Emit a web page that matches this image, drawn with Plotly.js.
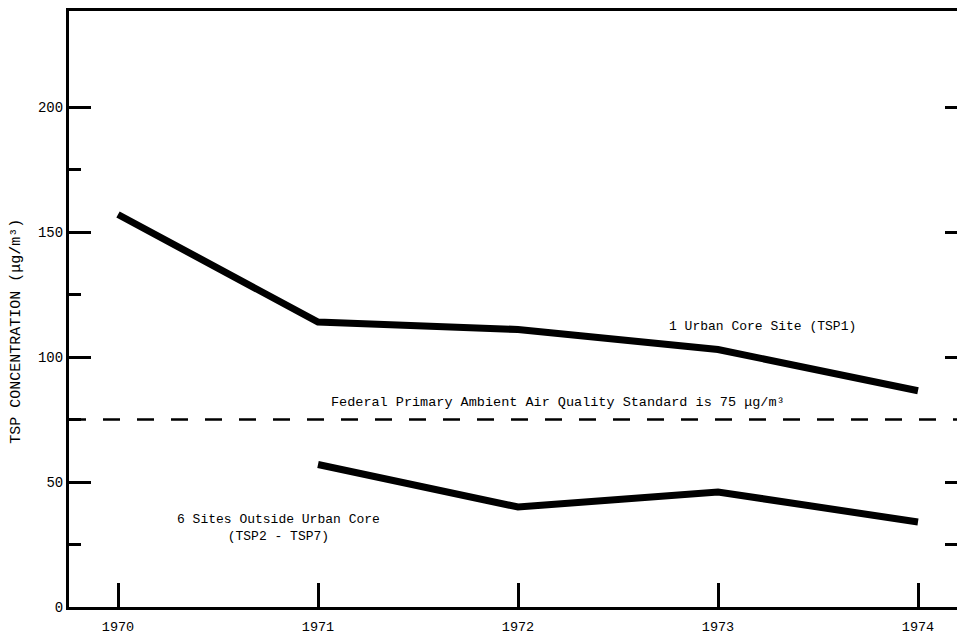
<!DOCTYPE html>
<html>
<head>
<meta charset="utf-8">
<script src="https://cdn.plot.ly/plotly-3.0.1.min.js"></script>
<style>html,body{margin:0;padding:0;background:#fff;}#chart{width:957px;height:638px;}</style>
</head>
<body>
<div id="chart"></div>
<script>
const years = [1970, 1971, 1972, 1973, 1974];
const urbanCore = [157, 114, 111, 103, 86.5];
const outsideYears = [1971, 1972, 1973, 1974];
const outsideCore = [57, 40, 46, 34];
const standardValue = 75;
const yTickVals = [0, 50, 100, 150, 200];
const yMinorTickVals = [25, 75, 125, 175];
const rightTickVals = [25, 50, 100, 150, 200];

const FONT = '"Liberation Mono", "DejaVu Sans Mono", monospace';

const traces = [
  {x: years, y: urbanCore, mode: 'lines', line: {color: '#000', width: 7}, hoverinfo: 'skip'},
  {x: outsideYears, y: outsideCore, mode: 'lines', line: {color: '#000', width: 7}, hoverinfo: 'skip'},
  {x: [1972], y: [100], yaxis: 'y2', mode: 'markers', marker: {opacity: 0}, hoverinfo: 'skip'}
];

const layout = {
  width: 957, height: 638,
  margin: {l: 69, r: 0, t: 11, b: 31},
  paper_bgcolor: '#fff', plot_bgcolor: '#fff',
  showlegend: false,
  font: {family: FONT, size: 13.5, color: '#000'},
  xaxis: {
    range: [1969.755, 1974.195],
    tickvals: years, ticktext: years.map(String),
    ticks: 'inside', ticklen: 24, tickwidth: 3, tickcolor: '#000',
    ticklabelstandoff: 5,
    showline: true, linewidth: 3, linecolor: '#000', mirror: true,
    showgrid: false, zeroline: false,
    tickfont: {family: FONT, size: 13.5, color: '#000'}
  },
  yaxis: {
    range: [0, 238.4],
    tickvals: yTickVals,
    ticks: 'inside', ticklen: 22, tickwidth: 3, tickcolor: '#000',
    minor: {tickvals: yMinorTickVals, ticks: 'inside', ticklen: 12, tickwidth: 3, tickcolor: '#000', showgrid: false},
    showline: true, linewidth: 3, linecolor: '#000',
    showgrid: false, zeroline: false,
    tickfont: {family: FONT, size: 14, color: '#000'}
  },
  yaxis2: {
    overlaying: 'y', side: 'right', range: [0, 238.4],
    tickvals: rightTickVals, ticks: 'inside', ticklen: 12, tickwidth: 3, tickcolor: '#000',
    showticklabels: false, showline: false, showgrid: false, zeroline: false
  },
  shapes: [
    {type: 'line', xref: 'paper', x0: 0, x1: 1, yref: 'y', y0: standardValue, y1: standardValue,
     line: {color: '#000', width: 2.5, dash: '17px,17px'}}
  ],
  annotations: [
    {x: -0.0586, y: 110.5, xref: 'paper', yref: 'y', text: 'TSP CONCENTRATION (μg/m³)', textangle: -90,
     showarrow: false, xanchor: 'center', yanchor: 'middle', font: {family: FONT, size: 15, color: '#000'}},
    {x: 1972.2, y: standardValue + 7, xref: 'x', yref: 'y', text: 'Federal Primary Ambient Air Quality Standard is 75 μg/m³',
     showarrow: false, xanchor: 'center', yanchor: 'middle', font: {family: FONT, size: 13.5, color: '#000'}},
    {x: 1973.22, y: 112.4, xref: 'x', yref: 'y', text: '1 Urban Core Site (TSP1)',
     showarrow: false, xanchor: 'center', yanchor: 'middle', font: {family: FONT, size: 13, color: '#000'}},
    {x: 1970.8, y: 31.5, xref: 'x', yref: 'y', text: '6 Sites Outside Urban Core<br>(TSP2 - TSP7)',
     showarrow: false, xanchor: 'center', yanchor: 'middle', align: 'center',
     font: {family: FONT, size: 13, color: '#000'}}
  ]
};

Plotly.newPlot('chart', traces, layout, {staticPlot: true, displayModeBar: false});
</script>
</body>
</html>
